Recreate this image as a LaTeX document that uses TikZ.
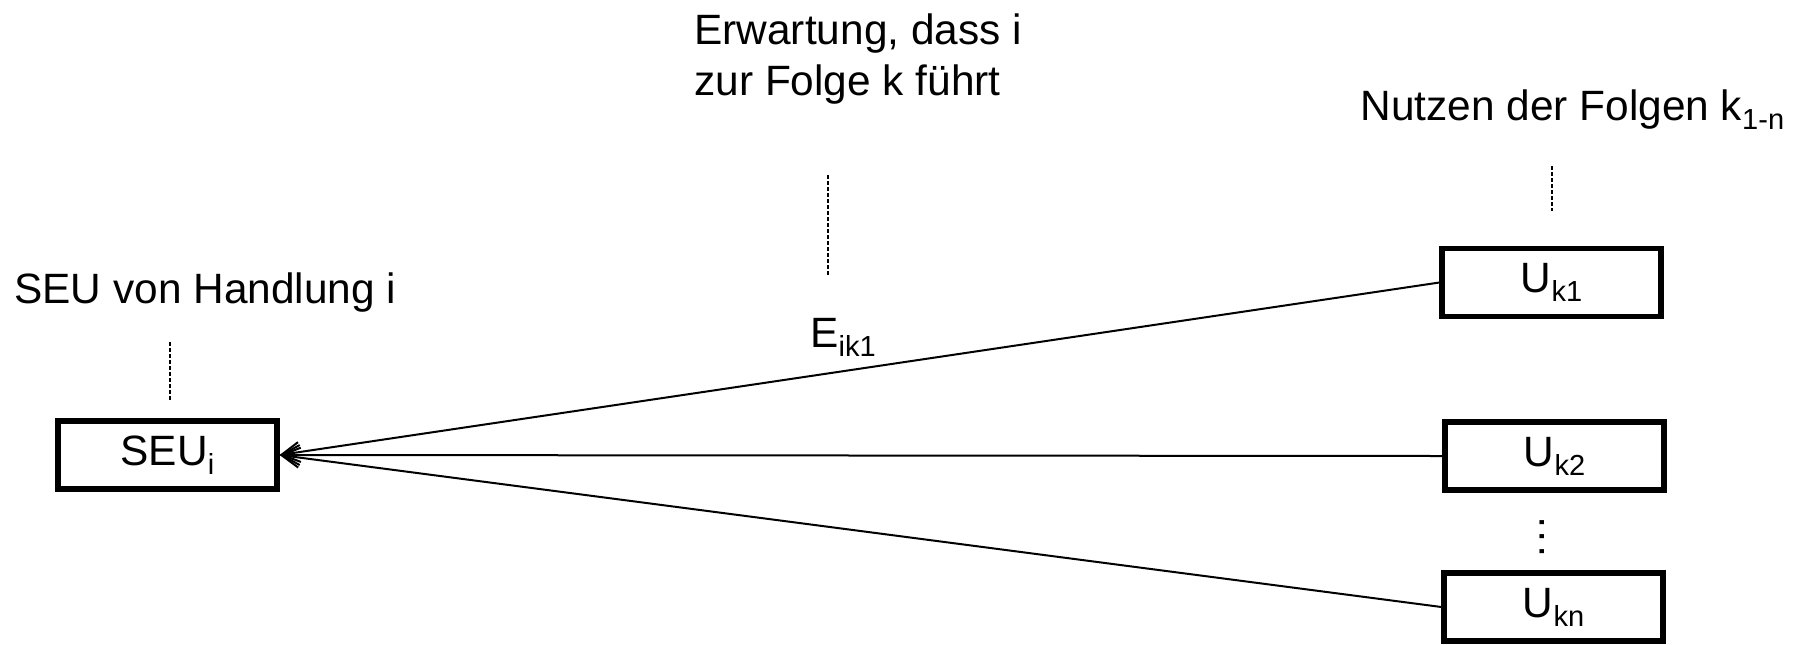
\documentclass[tikz,border=0pt]{standalone}
\usepackage{fontspec}
\setmainfont{Liberation Sans}
\usetikzlibrary{arrows.meta}
% lowered, smaller index text
\newcommand{\idx}[1]{\raisebox{-4.5pt}{\fontsize{14.5}{16}\selectfont #1}}
\begin{document}
\begin{tikzpicture}[x=0.5pt,y=-0.5pt,
  txt/.style={inner sep=0pt, anchor=base west, font=\fontsize{21.2}{25}\selectfont},
  box/.style={draw, line width=2.6pt, minimum width=109.5pt, minimum height=34pt,
              inner sep=0pt, font=\fontsize{21.2}{25}\selectfont},
  link/.style={line width=1pt, -{Straight Barb[length=9pt,width=10pt,line width=1pt]}},
  leader/.style={line width=0.9pt, dash pattern=on 2pt off 1pt}]
\useasboundingbox (0,0) rectangle (1800,644);

% boxes
\node[box] (seu) at (167.5,455) {SEU\idx{i}};
\node[box] (uk1) at (1551.5,282.5) {U\idx{k1}};
\node[box] (uk2) at (1554.5,456) {U\idx{k2}};
\node[box] (ukn) at (1553.5,607) {U\idx{kn}};

% vertical ellipsis between the last two boxes
\node[inner sep=0pt, font=\fontsize{21.2}{25}\selectfont] (dots) at (1542,537)
  {\rotatebox{90}{.\kern1.2pt.\kern1.2pt.}};

% connectors
\draw[link] (uk1.west) -- (seu.east);
\draw[link] (uk2.west) -- (seu.east);
\draw[link] (ukn.west) -- (seu.east);

% labels
\node[txt] (erw1) at (694,44) {Erwartung, dass i};
\node[txt] (erw2) at (694,95) {zur Folge k führt};
\node[txt] (nutzen) at (1360,120) {Nutzen der Folgen k\idx{1-n}};
\node[txt] (seulbl) at (14,303) {SEU von Handlung i};
\node[txt] (eik) at (810,347) {E\idx{ik1}};

% leader lines
\coordinate (l1a) at (828,175); \coordinate (l1b) at (828,276);
\coordinate (l2a) at (1552,166); \coordinate (l2b) at (1552,211);
\coordinate (l3a) at (170,342); \coordinate (l3b) at (170,400);
\draw[leader] (l1a) -- (l1b);
\draw[leader] (l2a) -- (l2b);
\draw[leader] (l3a) -- (l3b);
\end{tikzpicture}
\end{document}
